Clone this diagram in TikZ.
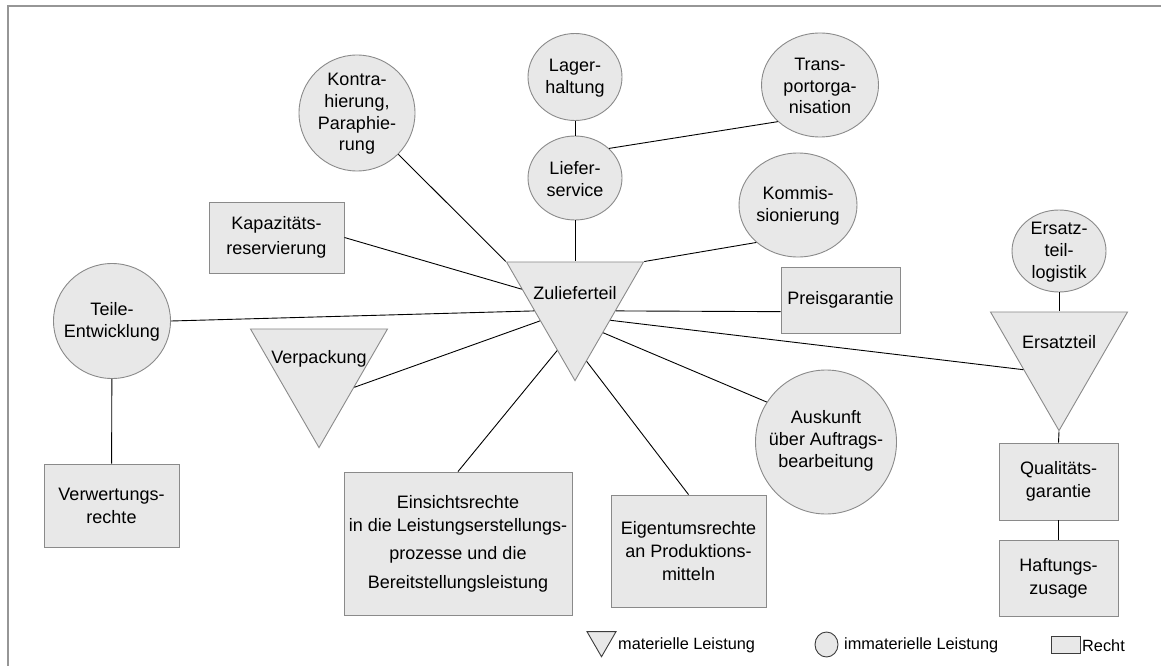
\documentclass[tikz,border=0pt]{standalone}
\usepackage{fontspec}
\setmainfont{Liberation Sans}
\usetikzlibrary{shapes.geometric}
\definecolor{shapefill}{RGB}{232,232,232}
\definecolor{shapeline}{RGB}{138,138,138}
\definecolor{framegray}{RGB}{150,150,150}
\definecolor{keyline}{RGB}{60,60,60}
\newcommand\lblfont{\fontsize{18}{21.7}\selectfont}
\newcommand\boxfont{\fontsize{18}{23}\selectfont}
\newcommand\keyfont{\fontsize{16.3}{19}\selectfont}
\tikzset{
  base/.style={fill=shapefill, draw=shapeline, line width=0.9pt},
  oval/.style={base, ellipse, inner sep=0pt},
  recht/.style={base, rectangle, inner sep=0pt, align=center, font=\boxfont},
  tri/.style={base, regular polygon, regular polygon sides=3, shape border rotate=180,
              minimum size=158.2pt, inner sep=0pt},
  lbl/.style={align=center, inner sep=0pt, font=\lblfont},
  keytxt/.style={anchor=west, inner sep=0pt, font=\keyfont},
  link/.style={draw=black, line width=0.9pt},
}
\begin{document}
\begin{tikzpicture}[x=1pt,y=-1pt]
\useasboundingbox (0,0) rectangle (1161,666);
% open frame
\draw[framegray, line width=1.4pt] (8,666) -- (8,6) -- (1161,6);

% material goods (triangles)
\node[tri] (Z) at (575,301.5) {};
\node[lbl] (Zt) at (575,293) {Zulieferteil};
\node[tri] (ver) at (319,368.5) {};
\node[lbl] (vert) at (319,359) {Verpackung};
\node[tri] (ers) at (1059,351.5) {};
\node[lbl] (erst) at (1059,342) {Ersatzteil};

% immaterial services (ovals)
\node[oval, minimum width=116pt, minimum height=116pt] (kon) at (357,113) {};
\node[lbl] (kont) at (357,114) {Kontra-\\hierung,\\Paraphie-\\rung};
\node[oval, minimum width=94pt, minimum height=87pt] (lag) at (575,77) {};
\node[lbl] (lagt) at (575,78) {Lager-\\haltung};
\node[oval, minimum width=94pt, minimum height=84pt] (lie) at (575,178) {};
\node[lbl] (liet) at (575,179) {Liefer-\\service};
\node[oval, minimum width=117pt, minimum height=104pt] (tra) at (820,85) {};
\node[lbl] (trat) at (820,86) {Trans-\\portorga-\\nisation};
\node[oval, minimum width=118pt, minimum height=104pt] (kom) at (798,205) {};
\node[lbl] (komt) at (798,206) {Kommis-\\sionierung};
\node[oval, minimum width=117pt, minimum height=115pt] (tei) at (112,321) {};
\node[lbl] (teit) at (112,322) {Teile-\\Entwicklung};
\node[oval, minimum width=141pt, minimum height=144pt] (aus) at (826,442) {};
\node[lbl] (aust) at (826,441) {Auskunft\\über Auftrags-\\bearbeitung};
\node[oval, minimum width=94pt, minimum height=82pt] (elog) at (1059,251) {};
\node[lbl] (elogt) at (1059,252) {Ersatz-\\teil-\\logistik};

% rights (rectangles)
\node[recht, minimum width=135pt, minimum height=71pt] (kap) at (276.5,237.5) {Kapazitäts-\\[2pt]reservierung};
\node[recht, minimum width=135pt, minimum height=83pt] (verw) at (111.5,505.5) {Verwertungs-\\rechte};
\node[recht, minimum width=228pt, minimum height=143pt] (ein) at (458,543.5)
  {Einsichtsrechte\\in die Leistungserstellungs-\\[5pt]prozesse und die\\[6pt]Bereitstellungsleistung};
\node[recht, minimum width=155pt, minimum height=112pt] (eig) at (688.5,551) {Eigentumsrechte\\an Produktions-\\mitteln};
\node[recht, minimum width=119pt, minimum height=66pt] (pre) at (840.5,300) {Preisgarantie};
\node[recht, minimum width=119pt, minimum height=77pt] (qual) at (1058.5,481.5) {Qualitäts-\\garantie};
\node[recht, minimum width=119pt, minimum height=76pt] (haf) at (1058.5,578) {Haftungs-\\zusage};

% connectors
\draw[link] (kon) -- (Z.150);
\draw[link] (lag) -- (lie);
\draw[link] (lie) -- (Z.90);
\draw[link] (lie.41) -- (tra.221);
\draw[link] (kom.222) -- (Z.30);
\draw[link] (kap.east) -- (Z.167);
\draw[link] (tei.east) -- (Z.193);
\draw[link] (tei) -- (verw);
\draw[link] (ver.-28) -- (Z.209);
\draw[link] (ein.north) -- (Z.250);
\draw[link] (eig.north) -- (Z.281);
\draw[link] (aus.146) -- (Z.-48);
\draw[link] (pre.191) -- (Z.-13);
\draw[link] (Z.-28) -- (ers.207);
\draw[link] (elog) -- (ers.90);
\draw[link] (ers.270) -- (qual.north);
\draw[link] (qual) -- (haf);

% key
\node[base, draw=keyline, regular polygon, regular polygon sides=3, shape border rotate=180,
      minimum size=33.5pt, inner sep=0pt] (ktri) at (601.5,640) {};
\node[keytxt] (ktrit) at (618,645.5) {materielle Leistung};
\node[base, draw=keyline, ellipse, minimum width=23pt, minimum height=25pt, inner sep=0pt] (kcirc) at (826.5,644.5) {};
\node[keytxt] (kcirct) at (844,645.5) {immaterielle Leistung};
\node[base, draw=keyline, rectangle, minimum width=29pt, minimum height=16.5pt, inner sep=0pt] (krect) at (1065.5,644.75) {};
\node[keytxt] (krectt) at (1082,645.5) {Recht};
\end{tikzpicture}
\end{document}
